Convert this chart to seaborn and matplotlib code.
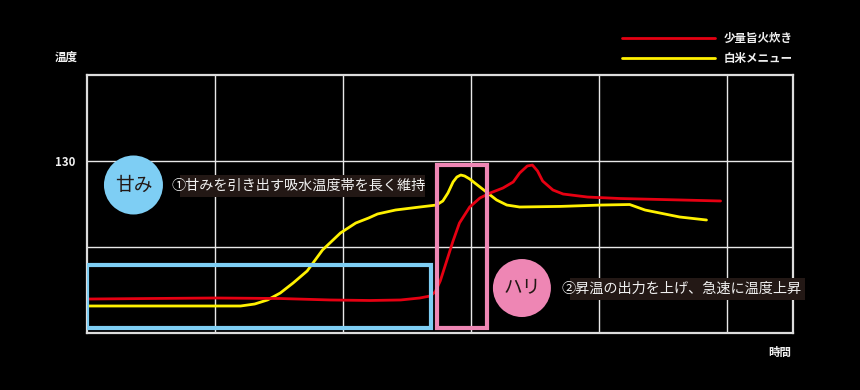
import matplotlib
matplotlib.use("Agg")
import matplotlib.pyplot as plt
import seaborn as sns
import pandas as pd
from matplotlib.patches import Rectangle, Ellipse

# ---- data ----
red_label = "少量旨火炊き"
yellow_label = "白米メニュー"

red_x = [0.0, 0.49, 1.0, 1.51, 1.9, 2.21, 2.45, 2.6, 2.68, 2.72, 2.76, 2.81, 2.86,
         2.91, 2.99, 3.07, 3.15, 3.25, 3.33, 3.38, 3.44, 3.48, 3.52, 3.56, 3.64,
         3.72, 3.91, 4.16, 4.63, 4.95]
red_y = [113.95, 114.01, 114.07, 114.01, 113.84, 113.78, 113.84, 114.07, 114.3,
         114.77, 116.05, 118.37, 120.7, 122.79, 124.65, 125.7, 126.28, 126.86,
         127.56, 128.6, 129.42, 129.53, 128.84, 127.67, 126.63, 126.16, 125.81,
         125.64, 125.47, 125.35]

yellow_x = [0.0, 0.49, 1.0, 1.2, 1.31, 1.41, 1.51, 1.61, 1.72, 1.84, 1.98, 2.1,
            2.2, 2.27, 2.41, 2.6, 2.73, 2.78, 2.82, 2.86, 2.89, 2.92, 2.95, 2.99,
            3.05, 3.13, 3.2, 3.28, 3.38, 3.7, 4.02, 4.24, 4.36, 4.63, 4.84]
yellow_y = [113.14, 113.14, 113.14, 113.14, 113.37, 113.84, 114.65, 115.81,
            117.21, 119.65, 121.63, 122.79, 123.37, 123.84, 124.3, 124.65,
            124.88, 125.35, 126.28, 127.56, 128.14, 128.37, 128.26, 127.91,
            127.21, 126.28, 125.47, 124.88, 124.65, 124.72, 124.88, 124.94,
            124.3, 123.49, 123.14]

annot1 = "①甘みを引き出す吸水温度帯を長く維持"
annot2 = "②昇温の出力を上げ、急速に温度上昇"
badge1 = "甘み"
badge2 = "ハリ"
y_label = "温度"
x_label = "時間"
ytick_vals = [120, 130]
ytick_labels = ["", "130"]
xtick_vals = [1, 2, 3, 4, 5]

# ---- style ----
sns.set_theme(style="dark")
plt.rcParams["font.family"] = ["Noto Sans CJK JP", "DejaVu Sans"]

RED = "#e60012"
YELLOW = "#fff100"
BLUE = "#7ecef4"
PINK = "#ee86b4"
DARK = "#231815"
FG = "#f0f0f0"

fig = plt.figure(figsize=(8.6, 3.9), dpi=100, facecolor="black")
ax = fig.add_axes([87 / 860, 57 / 390, (793 - 87) / 860, (333 - 75) / 390])
ax.set_facecolor("black")

df_y = pd.DataFrame({"x": yellow_x, "y": yellow_y})
df_r = pd.DataFrame({"x": red_x, "y": red_y})
sns.lineplot(data=df_y, x="x", y="y", color=YELLOW, lw=2.0, ax=ax,
             label=yellow_label, zorder=3)
sns.lineplot(data=df_r, x="x", y="y", color=RED, lw=2.0, ax=ax,
             label=red_label, zorder=4)

ax.set_xlim(0, 5.516)
ax.set_ylim(110, 140)
ax.set_xticks(xtick_vals)
ax.set_xticklabels([""] * len(xtick_vals))
ax.set_yticks(ytick_vals)
ax.set_yticklabels(ytick_labels)
ax.tick_params(axis="both", length=0, colors=FG, labelsize=8.3, pad=8.5)
for t in ax.get_yticklabels():
    t.set_fontweight("bold")
ax.set_xlabel("")
ax.set_ylabel("")
ax.grid(True, color="#e8e8e8", lw=1.0)
for s in ax.spines.values():
    s.set_visible(True)
    s.set_color("#dddddd")
    s.set_linewidth(1.6)

# boxes
ax.add_patch(Rectangle((0.0, 110.58), 2.6875, 7.33, fill=False, ec=BLUE,
                       lw=3, zorder=5))
ax.add_patch(Rectangle((2.734, 110.58), 0.391, 18.95, fill=False, ec=PINK,
                       lw=3, zorder=5))

# annotation label backgrounds + texts
ax.add_patch(Rectangle((0.727, 125.81), 1.914, 2.56, fc=DARK, ec="none",
                       zorder=6))
ax.text(0.664, 127.09, annot1, color=FG, fontsize=10.2, va="center", ha="left",
        zorder=7)
ax.add_patch(Rectangle((3.773, 113.84), 1.836, 2.56, fc=DARK, ec="none",
                       zorder=6, clip_on=False))
ax.text(3.711, 115.12, annot2, color=FG, fontsize=10.2, va="center", ha="left",
        zorder=7, clip_on=False)

# badges
ax.add_patch(Ellipse((0.363, 127.21), 59 / 128, 59 / 8.6, fc=BLUE, ec="none",
                     zorder=6))
ax.text(0.363, 127.21, badge1, color=DARK, fontsize=13.5, ha="center",
        va="center", zorder=7)
ax.add_patch(Ellipse((3.398, 115.23), 58 / 128, 58 / 8.6, fc=PINK, ec="none",
                     zorder=6))
ax.text(3.398, 115.23, badge2, color=DARK, fontsize=13.5, ha="center",
        va="center", zorder=7)

# axis titles
fig.text(66.5 / 860, 1 - 57 / 390, y_label, color=FG, fontsize=8.3,
         fontweight="bold", ha="center", va="center")
fig.text(779.5 / 860, 1 - 352 / 390, x_label, color=FG, fontsize=8.3,
         fontweight="bold", ha="center", va="center")

# legend
h, l = ax.get_legend_handles_labels()
order = [l.index(red_label), l.index(yellow_label)]
leg = ax.legend([h[i] for i in order], [l[i] for i in order],
                loc="upper left", bbox_to_anchor=(622 / 860, 1 - 32 / 390),
                bbox_transform=fig.transFigure, frameon=False, borderpad=0,
                borderaxespad=0, handlelength=8.1, handletextpad=0.7,
                labelspacing=0.6,
                prop={"size": 8.3, "weight": "bold"})
for t in leg.get_texts():
    t.set_color(FG)

fig.savefig("out.png", dpi=100, facecolor="black")
